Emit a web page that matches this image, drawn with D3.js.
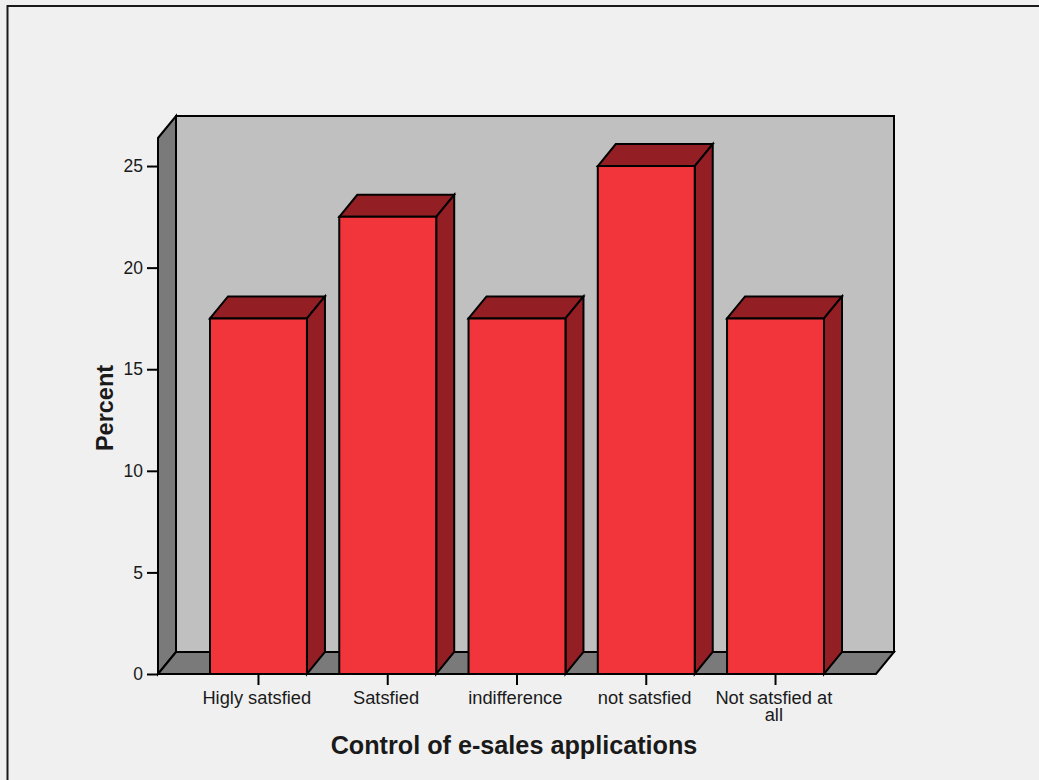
<!DOCTYPE html>
<html>
<head>
<meta charset="utf-8">
<style>
html,body{margin:0;padding:0;background:#f0f0f0;overflow:hidden}
svg{display:block}
text{font-family:"Liberation Sans",Arial,sans-serif;fill:#1a1a1a}
</style>
<script src="https://cdn.jsdelivr.net/npm/d3@7/dist/d3.min.js"></script>
</head>
<body>
<svg id="chart" width="1039" height="780"></svg>
<script>
const categories = ["Higly satsfied","Satsfied","indifference","not satsfied","Not satsfied at all"];
const percents = [17.5,22.5,17.5,25,17.5];
const yTicks = [0,5,10,15,20,25];
const yTitle = "Percent";
const xTitle = "Control of e-sales applications";

const svg = d3.select("#chart");
const depth = {dx:18, dy:-22};
const plot = {left:158, right:876, bottom:674, top:138};

const y = d3.scaleLinear().domain([0,26.38]).range([plot.bottom,plot.top]);
const x = d3.scaleBand().domain(categories).range([210,824]).paddingInner(0.25).paddingOuter(0);

const line = d3.line();
function poly(pts, fill){
  return svg.append("path").attr("d", line(pts)+"Z").attr("fill",fill)
    .attr("stroke","#000").attr("stroke-width",2).attr("stroke-linejoin","miter");
}

// outer frame: only the top and left edges are drawn
svg.append("path").attr("d","M7.5,780V6H1039").attr("fill","none").attr("stroke","#1a1a1a").attr("stroke-width",2);

// back wall, side wall and floor of the 3D box
const {dx,dy} = depth;
poly([[plot.left+dx,plot.top+dy],[plot.right+dx,plot.top+dy],[plot.right+dx,plot.bottom+dy],[plot.left+dx,plot.bottom+dy]],"#c0c0c0");
poly([[plot.left,plot.top],[plot.left+dx,plot.top+dy],[plot.left+dx,plot.bottom+dy],[plot.left,plot.bottom]],"#7a7a7a");
poly([[plot.left,plot.bottom],[plot.left+dx,plot.bottom+dy],[plot.right+dx,plot.bottom+dy],[plot.right,plot.bottom]],"#7a7a7a");

// bars: top face, side face, front face
categories.forEach((c,i)=>{
  const x0=x(c), x1=x0+x.bandwidth(), yT=y(percents[i]), yB=y(0);
  poly([[x0,yT],[x0+dx,yT+dy],[x1+dx,yT+dy],[x1,yT]],"#931f24");
  poly([[x1,yT],[x1+dx,yT+dy],[x1+dx,yB+dy],[x1,yB]],"#931f24");
  poly([[x0,yT],[x1,yT],[x1,yB],[x0,yB]],"#f2343b");
});

// axes
const yAxis = d3.axisLeft(y).tickValues(yTicks).tickSize(11).tickPadding(4);
const gy = svg.append("g").attr("transform",`translate(${plot.left},0)`).call(yAxis);
gy.select(".domain").remove();
gy.selectAll("line").attr("stroke","#000").attr("stroke-width",2);
gy.selectAll("text").style("font-size","17.5px").style("font-family",'"Liberation Sans",Arial,sans-serif').attr("fill","#1a1a1a");

const xAxis = d3.axisBottom(x).tickSize(11).tickFormat("");
const gx = svg.append("g").attr("transform",`translate(0,${plot.bottom})`).call(xAxis);
gx.select(".domain").remove();
gx.selectAll("line").attr("stroke","#000").attr("stroke-width",2);

// category labels, the last one wrapped onto two lines
const labelLines = categories.map(c=> c.length>15 ? [c.slice(0,c.lastIndexOf(" ")),c.slice(c.lastIndexOf(" ")+1)] : [c]);
categories.forEach((c,i)=>{
  const t = svg.append("text").attr("text-anchor","middle").style("font-size","18.3px");
  labelLines[i].forEach((s,j)=>{
    t.append("tspan").attr("x",x(c)+x.bandwidth()/2-1.7).attr("y",704+j*17).text(s);
  });
});

// axis titles
svg.append("text").attr("x",514).attr("y",754).attr("text-anchor","middle")
  .style("font-size","25.2px").style("font-weight","bold").text(xTitle);
svg.append("text").attr("transform","translate(113,408) rotate(-90)").attr("text-anchor","middle")
  .style("font-size","23.5px").style("font-weight","bold").text(yTitle);
</script>
</body>
</html>
